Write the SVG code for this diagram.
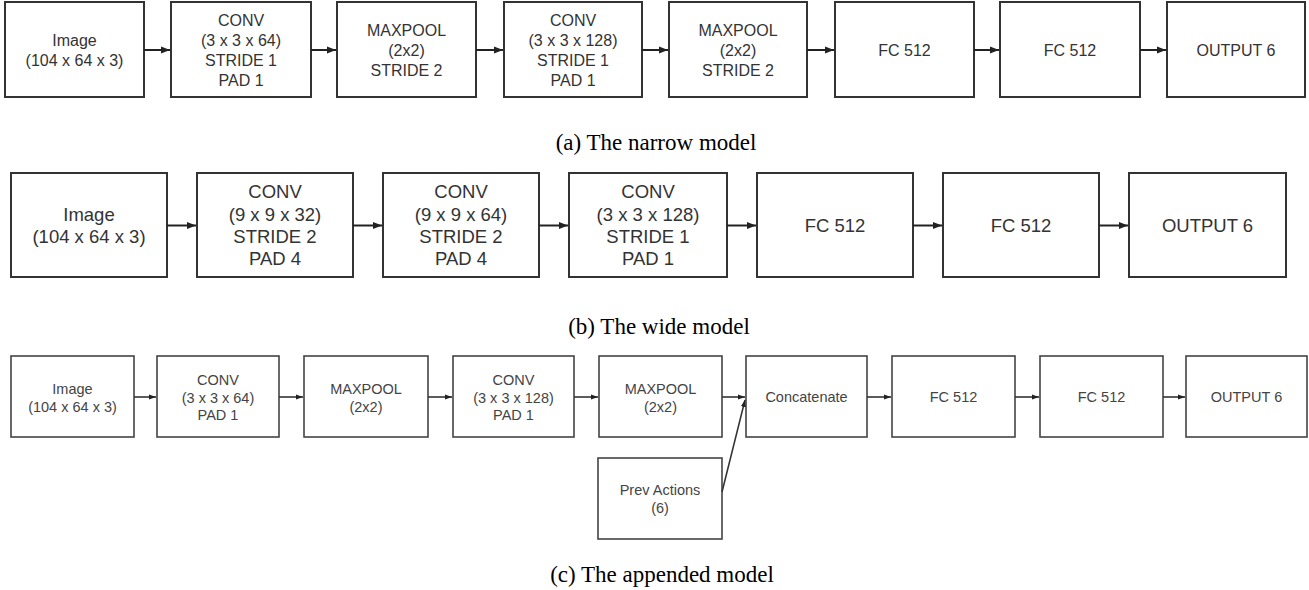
<svg xmlns="http://www.w3.org/2000/svg" width="1309" height="590" viewBox="0 0 1309 590">
<defs>
<style>
.box{fill:#fff;stroke:#333;stroke-width:2}
.boxc{fill:#fff;stroke:#444;stroke-width:1.6}
.ta{font-family:"Liberation Sans",Arial,sans-serif;font-size:16px;fill:#333;text-anchor:middle}
.tb{font-family:"Liberation Sans",Arial,sans-serif;font-size:18.5px;fill:#333;text-anchor:middle}
.tc{font-family:"Liberation Sans",Arial,sans-serif;font-size:14.5px;fill:#444;text-anchor:middle}
.cap{font-family:"Liberation Serif","Times New Roman",serif;font-size:23px;fill:#000;text-anchor:middle}
.ln{stroke:#222;stroke-width:2;fill:none}
.lnc{stroke:#333;stroke-width:1.6;fill:none}
</style>
<marker id="ah" markerUnits="userSpaceOnUse" markerWidth="10" markerHeight="8" refX="9" refY="4" orient="auto"><path d="M0,0.5 L9,4 L0,7.5 z" fill="#222"/></marker>
<marker id="ahc" markerUnits="userSpaceOnUse" markerWidth="8" markerHeight="6" refX="7" refY="3" orient="auto"><path d="M0,0.5 L7,3 L0,5.5 z" fill="#222"/></marker>
</defs>
<rect width="1309" height="590" fill="#fff"/>

<!-- Row a: narrow model -->
<g id="a_image"><rect class="box" x="5" y="2" width="139" height="95"/><text class="ta" x="74.5" y="46">Image</text><text class="ta" x="74.5" y="66">(104 x 64 x 3)</text></g>
<g id="a_conv1"><rect class="box" x="171" y="2" width="140" height="95"/><text class="ta" x="241" y="25.5">CONV</text><text class="ta" x="241" y="45.5">(3 x 3 x 64)</text><text class="ta" x="241" y="65.5">STRIDE 1</text><text class="ta" x="241" y="85.5">PAD 1</text></g>
<g id="a_pool1"><rect class="box" x="337" y="2" width="139" height="95"/><text class="ta" x="406.5" y="36">MAXPOOL</text><text class="ta" x="406.5" y="56">(2x2)</text><text class="ta" x="406.5" y="76">STRIDE 2</text></g>
<g id="a_conv2"><rect class="box" x="504" y="2" width="138" height="95"/><text class="ta" x="573" y="25.5">CONV</text><text class="ta" x="573" y="45.5">(3 x 3 x 128)</text><text class="ta" x="573" y="65.5">STRIDE 1</text><text class="ta" x="573" y="85.5">PAD 1</text></g>
<g id="a_pool2"><rect class="box" x="669" y="2" width="138" height="95"/><text class="ta" x="738" y="36">MAXPOOL</text><text class="ta" x="738" y="56">(2x2)</text><text class="ta" x="738" y="76">STRIDE 2</text></g>
<g id="a_fc1"><rect class="box" x="835" y="2" width="139" height="95"/><text class="ta" x="904.5" y="56">FC 512</text></g>
<g id="a_fc2"><rect class="box" x="1000" y="2" width="140" height="95"/><text class="ta" x="1070" y="56">FC 512</text></g>
<g id="a_out"><rect class="box" x="1167" y="2" width="138" height="95"/><text class="ta" x="1236" y="56">OUTPUT 6</text></g>
<text class="cap" x="656" y="150">(a) The narrow model</text>

<!-- Row b: wide model -->
<g id="b_image"><rect class="box" x="11" y="173" width="156" height="104"/><text class="tb" x="89" y="221">Image</text><text class="tb" x="89" y="243">(104 x 64 x 3)</text></g>
<g id="b_conv1"><rect class="box" x="197" y="173" width="156" height="104"/><text class="tb" x="275" y="198">CONV</text><text class="tb" x="275" y="221">(9 x 9 x 32)</text><text class="tb" x="275" y="243">STRIDE 2</text><text class="tb" x="275" y="265">PAD 4</text></g>
<g id="b_conv2"><rect class="box" x="383" y="173" width="156" height="104"/><text class="tb" x="461" y="198">CONV</text><text class="tb" x="461" y="221">(9 x 9 x 64)</text><text class="tb" x="461" y="243">STRIDE 2</text><text class="tb" x="461" y="265">PAD 4</text></g>
<g id="b_conv3"><rect class="box" x="569" y="173" width="158" height="104"/><text class="tb" x="648" y="198">CONV</text><text class="tb" x="648" y="221">(3 x 3 x 128)</text><text class="tb" x="648" y="243">STRIDE 1</text><text class="tb" x="648" y="265">PAD 1</text></g>
<g id="b_fc1"><rect class="box" x="757" y="173" width="156" height="104"/><text class="tb" x="835" y="232">FC 512</text></g>
<g id="b_fc2"><rect class="box" x="943" y="173" width="156" height="104"/><text class="tb" x="1021" y="232">FC 512</text></g>
<g id="b_out"><rect class="box" x="1129" y="173" width="157" height="104"/><text class="tb" x="1207.5" y="232">OUTPUT 6</text></g>
<text class="cap" x="659" y="334">(b) The wide model</text>

<!-- Row c: appended model -->
<g id="c_image"><rect class="boxc" x="11" y="356" width="123" height="81"/><text class="tc" x="72.5" y="394">Image</text><text class="tc" x="72.5" y="412">(104 x 64 x 3)</text></g>
<g id="c_conv1"><rect class="boxc" x="157" y="356" width="122" height="81"/><text class="tc" x="218" y="385">CONV</text><text class="tc" x="218" y="402.5">(3 x 3 x 64)</text><text class="tc" x="218" y="420">PAD 1</text></g>
<g id="c_pool1"><rect class="boxc" x="304" y="356" width="124" height="81"/><text class="tc" x="366" y="394">MAXPOOL</text><text class="tc" x="366" y="411.5">(2x2)</text></g>
<g id="c_conv2"><rect class="boxc" x="453" y="356" width="121" height="81"/><text class="tc" x="513.5" y="385">CONV</text><text class="tc" x="513.5" y="402.5">(3 x 3 x 128)</text><text class="tc" x="513.5" y="420">PAD 1</text></g>
<g id="c_pool2"><rect class="boxc" x="599" y="356" width="123" height="81"/><text class="tc" x="660.5" y="394">MAXPOOL</text><text class="tc" x="660.5" y="411.5">(2x2)</text></g>
<g id="c_concat"><rect class="boxc" x="746" y="356" width="121" height="81"/><text class="tc" x="806.5" y="402">Concatenate</text></g>
<g id="c_fc1"><rect class="boxc" x="892" y="356" width="123" height="81"/><text class="tc" x="953.5" y="402">FC 512</text></g>
<g id="c_fc2"><rect class="boxc" x="1040" y="356" width="123" height="81"/><text class="tc" x="1101.5" y="402">FC 512</text></g>
<g id="c_out"><rect class="boxc" x="1186" y="356" width="121" height="81"/><text class="tc" x="1246.5" y="402">OUTPUT 6</text></g>
<g id="c_prev"><rect class="boxc" x="598" y="458" width="124" height="81"/><text class="tc" x="660" y="495">Prev Actions</text><text class="tc" x="660" y="512.5">(6)</text></g>
<text class="cap" x="662" y="582">(c) The appended model</text>

<g id="connectors">
<line class="ln" x1="144" y1="50" x2="170" y2="50" marker-end="url(#ah)"/>
<line class="ln" x1="311" y1="50" x2="336" y2="50" marker-end="url(#ah)"/>
<line class="ln" x1="476" y1="50" x2="503" y2="50" marker-end="url(#ah)"/>
<line class="ln" x1="642" y1="50" x2="668" y2="50" marker-end="url(#ah)"/>
<line class="ln" x1="807" y1="50" x2="834" y2="50" marker-end="url(#ah)"/>
<line class="ln" x1="974" y1="50" x2="999" y2="50" marker-end="url(#ah)"/>
<line class="ln" x1="1140" y1="50" x2="1166" y2="50" marker-end="url(#ah)"/>

<line class="ln" x1="167" y1="225.5" x2="196" y2="225.5" marker-end="url(#ah)"/>
<line class="ln" x1="353" y1="225.5" x2="382" y2="225.5" marker-end="url(#ah)"/>
<line class="ln" x1="539" y1="225.5" x2="568" y2="225.5" marker-end="url(#ah)"/>
<line class="ln" x1="727" y1="225.5" x2="756" y2="225.5" marker-end="url(#ah)"/>
<line class="ln" x1="913" y1="225.5" x2="942" y2="225.5" marker-end="url(#ah)"/>
<line class="ln" x1="1099" y1="225.5" x2="1128" y2="225.5" marker-end="url(#ah)"/>

<line class="lnc" x1="134" y1="397" x2="156" y2="397" marker-end="url(#ahc)"/>
<line class="lnc" x1="279" y1="397" x2="303" y2="397" marker-end="url(#ahc)"/>
<line class="lnc" x1="428" y1="397" x2="452" y2="397" marker-end="url(#ahc)"/>
<line class="lnc" x1="574" y1="397" x2="598" y2="397" marker-end="url(#ahc)"/>
<line class="lnc" x1="722" y1="397" x2="745" y2="397" marker-end="url(#ahc)"/>
<line class="lnc" x1="867" y1="397" x2="891" y2="397" marker-end="url(#ahc)"/>
<line class="lnc" x1="1015" y1="397" x2="1039" y2="397" marker-end="url(#ahc)"/>
<line class="lnc" x1="1163" y1="397" x2="1185" y2="397" marker-end="url(#ahc)"/>
<line class="lnc" x1="722" y1="492" x2="745" y2="400" marker-end="url(#ahc)"/>
</g>
</svg>
